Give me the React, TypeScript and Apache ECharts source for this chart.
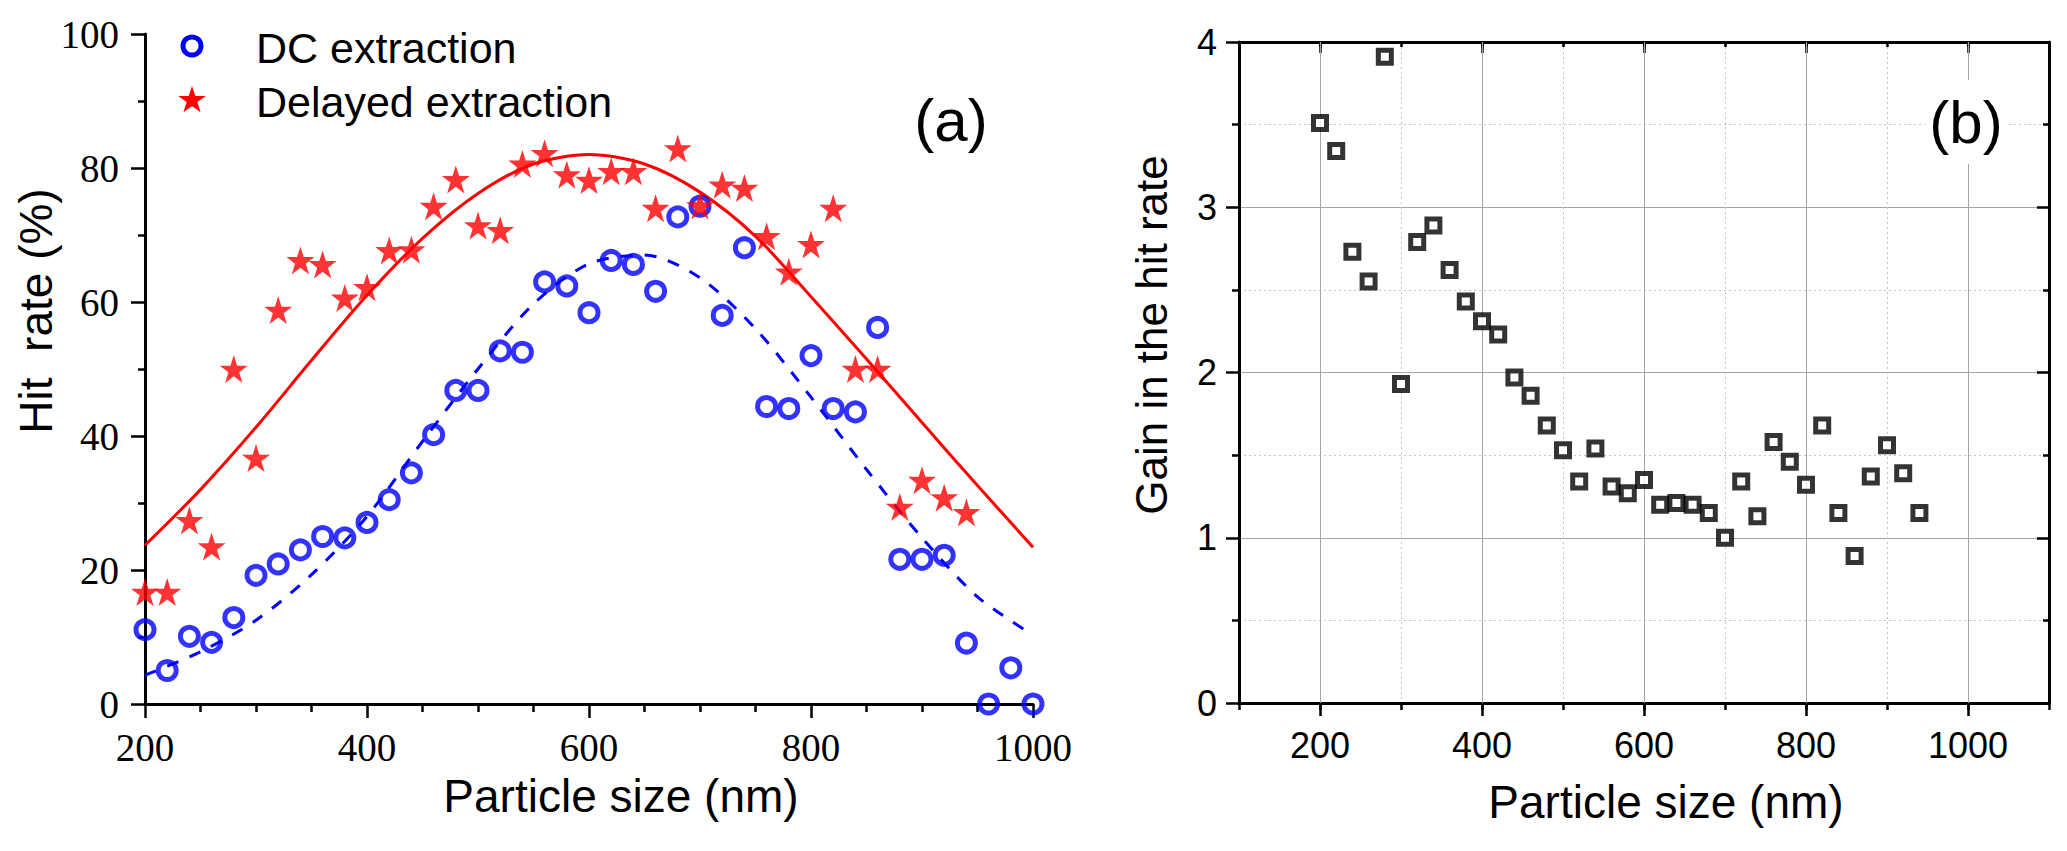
import { useEffect, useRef } from 'react';
import * as echarts from 'echarts';

// panel (a): hit rate vs particle size
const particleSizes = [
  200, 220, 240, 260, 280, 300, 320, 340, 360, 380, 400, 420, 440, 460, 480, 500, 520, 540, 560, 580, 600,
  620, 640, 660, 680, 700, 720, 740, 760, 780, 800, 820, 840, 860, 880, 900, 920, 940, 960, 980, 1000,
];
const dcRate = [
  11.1, 5.0, 10.1, 9.2, 12.9, 19.2, 20.9, 23.0, 25.0, 24.8, 27.1, 30.5, 34.5, 40.2, 46.8, 46.8, 52.7, 52.5, 63.0, 62.4, 58.4,
  66.2, 65.6, 61.6, 72.7, 74.3, 58.0, 68.1, 44.4, 44.1, 52.0, 44.1, 43.6, 56.2, 21.6, 21.6, 22.2, 9.1, 0, 5.4, 0,
];
const delayedSizes = [
  200, 220, 240, 260, 280, 300, 320, 340, 360, 380, 400, 420, 440, 460, 480, 500, 520, 540, 560,
  580, 600, 620, 640, 660, 680, 700, 720, 740, 760, 780, 800, 820, 840, 860, 880, 900, 920, 940,
];
const delayedRate = [
  16.7, 16.7, 27.4, 23.5, 50.0, 36.7, 58.8, 66.2, 65.6, 60.6, 62.2, 67.7, 67.8, 74.3, 78.3, 71.4, 70.7, 80.6, 82.2,
  79.0, 78.2, 79.5, 79.5, 74.0, 82.9, 74.4, 77.5, 77.0, 69.8, 64.5, 68.6, 74.0, 50.0, 50.0, 29.4, 33.4, 30.8, 28.6,
];

// fitted curves, every 50 nm
const fitSizes = [200, 250, 300, 350, 400, 450, 500, 550, 600, 650, 700, 750, 800, 850, 900, 950, 1000];
const dcFit = [4.3, 7.8, 12.5, 19.3, 28.0, 39.2, 50.0, 59.7, 65.7, 67.0, 63.6, 56.0, 45.8, 35.0, 24.8, 16.0, 10.3];
const delayedFit = [23.7, 32.0, 41.3, 51.3, 61.0, 69.5, 76.2, 80.6, 82.0, 80.6, 76.4, 69.8, 60.8, 51.5, 42.0, 32.6, 23.4];

// panel (b): gain
const gainSizes = delayedSizes;
const gainRate = [
  3.51, 3.34, 2.73, 2.55, 3.91, 1.93, 2.79, 2.89, 2.62, 2.43, 2.31, 2.23, 1.97, 1.86, 1.68, 1.53, 1.34, 1.54, 1.31,
  1.27, 1.35, 1.20, 1.21, 1.20, 1.15, 1.00, 1.34, 1.13, 1.58, 1.46, 1.32, 1.68, 1.15, 0.89, 1.37, 1.56, 1.39, 1.15,
];
const gainMajorX = [200, 400, 600, 800, 1000];

const SERIF = '"Times New Roman", "Liberation Serif", serif';
const SANS = 'Arial, "Liberation Sans", sans-serif';
const STAR_PTS = [
  [50, 0], [61.8, 35.5], [99.5, 35.5], [69, 57.5], [80.6, 93.5],
  [50, 71.3], [19.4, 93.5], [31, 57.5], [0.5, 35.5], [38.2, 35.5],
];
const STAR = 'path://M' + STAR_PTS.map((p) => p.join(',')).join(' L') + ' Z';
const GRID_SOLID = '#a4a4a4';
const GRID_DOT = '#c4c4c4';
const BLUE = '#0000ff';
const RED = '#ff0000';

const pairs = (xs: number[], ys: number[]) => ys.map((y, i) => [xs[i], y]);

const axisLine = { show: true, onZero: false, lineStyle: { color: '#000', width: 3 } };
const tickStyle = { color: '#000', width: 2.5 };

function label(text: string, x: number, y: number, size: number, opts: { rotate?: boolean; bg?: boolean; left?: boolean } = {}) {
  return {
    type: 'text',
    x,
    y,
    rotation: opts.rotate ? Math.PI / 2 : 0,
    z: 100,
    style: {
      text,
      fill: '#000',
      font: `${size}px ${SANS}`,
      align: opts.left ? 'left' : 'center',
      verticalAlign: 'middle',
      ...(opts.bg ? { backgroundColor: '#fff', padding: [12, 4] } : {}),
    },
  };
}

function starIcon(cx: number, cy: number, size: number) {
  return {
    type: 'polygon',
    z: 100,
    shape: { points: STAR_PTS.map(([x, y]) => [cx + ((x - 50) * size) / 100, cy + ((y - 50) * size) / 100]) },
    style: { fill: RED },
  };
}

export default function App() {
  const divEl = useRef<HTMLDivElement>(null);

  useEffect(() => {
    const chart = echarts.init(divEl.current as HTMLDivElement, null, { renderer: 'svg' });

    const option: any = {
      animation: false,
      backgroundColor: '#fff',
      grid: [
        { left: 145, top: 34, width: 888, height: 670 },
        { left: 1239, top: 42, width: 810, height: 661 },
      ],
      xAxis: [
        {
          gridIndex: 0,
          type: 'value',
          min: 200,
          max: 1000,
          interval: 200,
          axisLine,
          axisTick: { show: true, length: 14, lineStyle: tickStyle },
          minorTick: { show: true, splitNumber: 4, length: 8, lineStyle: tickStyle },
          axisLabel: { fontFamily: SERIF, fontSize: 39, color: '#000', margin: 24, formatter: (v: number) => String(v) },
          splitLine: { show: false },
        },
        {
          gridIndex: 1,
          type: 'value',
          position: 'bottom',
          min: 100,
          max: 1100,
          interval: 100,
          axisLine,
          axisTick: { show: true, length: 7, lineStyle: tickStyle },
          axisLabel: {
            fontFamily: SANS,
            fontSize: 36,
            color: '#000',
            margin: 24,
            formatter: (v: number) => (v % 200 === 0 ? String(v) : ''),
          },
          splitLine: { show: true, lineStyle: { color: GRID_DOT, type: [2, 3], width: 1 } },
        },
        {
          gridIndex: 1,
          type: 'value',
          position: 'bottom',
          min: 100,
          max: 1100,
          axisLine: { show: false, onZero: false },
          axisTick: { show: true, length: 13, lineStyle: tickStyle, customValues: gainMajorX },
          axisLabel: { show: false },
          splitLine: { show: false },
        },
        {
          gridIndex: 1,
          type: 'value',
          position: 'top',
          min: 100,
          max: 1100,
          interval: 100,
          axisLine,
          axisTick: { show: true, inside: true, length: 5, lineStyle: tickStyle },
          axisLabel: { show: false },
          splitLine: { show: false },
        },
        {
          gridIndex: 1,
          type: 'value',
          position: 'top',
          min: 100,
          max: 1100,
          axisLine: { show: false, onZero: false },
          axisTick: { show: true, inside: true, length: 11, lineStyle: tickStyle, customValues: gainMajorX },
          axisLabel: { show: false },
          splitLine: { show: false },
        },
      ],
      yAxis: [
        {
          gridIndex: 0,
          type: 'value',
          min: 0,
          max: 100,
          interval: 20,
          axisLine,
          axisTick: { show: true, length: 14, lineStyle: tickStyle },
          minorTick: { show: true, splitNumber: 2, length: 7, lineStyle: tickStyle },
          axisLabel: { fontFamily: SERIF, fontSize: 39, color: '#000', margin: 26 },
          splitLine: { show: false },
        },
        {
          gridIndex: 1,
          type: 'value',
          position: 'left',
          min: 0,
          max: 4,
          interval: 1,
          axisLine,
          axisTick: { show: true, length: 13, lineStyle: tickStyle },
          minorTick: { show: true, splitNumber: 2, length: 7, lineStyle: tickStyle },
          axisLabel: { fontFamily: SANS, fontSize: 36, color: '#000', margin: 22 },
          splitLine: { show: true, lineStyle: { color: GRID_SOLID, width: 1 } },
          minorSplitLine: { show: true, lineStyle: { color: GRID_DOT, type: [2, 3], width: 1 } },
        },
        {
          gridIndex: 1,
          type: 'value',
          position: 'right',
          min: 0,
          max: 4,
          interval: 1,
          axisLine,
          axisTick: { show: true, inside: true, length: 12, lineStyle: tickStyle },
          minorTick: { show: true, splitNumber: 2, length: 6, lineStyle: tickStyle },
          axisLabel: { show: false },
          splitLine: { show: false },
        },
      ],
      series: [
        {
          name: 'Delayed fit',
          type: 'line',
          xAxisIndex: 0,
          yAxisIndex: 0,
          data: pairs(fitSizes, delayedFit),
          smooth: 0.3,
          showSymbol: false,
          lineStyle: { color: RED, width: 3 },
          z: 1,
        },
        {
          name: 'DC fit',
          type: 'line',
          xAxisIndex: 0,
          yAxisIndex: 0,
          data: pairs(fitSizes, dcFit),
          smooth: 0.3,
          showSymbol: false,
          lineStyle: { color: BLUE, width: 3, type: [12, 12] },
          z: 1,
        },
        {
          name: 'DC extraction',
          type: 'scatter',
          xAxisIndex: 0,
          yAxisIndex: 0,
          data: pairs(particleSizes, dcRate),
          symbol: 'circle',
          symbolSize: 18,
          itemStyle: { color: 'rgba(255,255,255,0)', borderColor: BLUE, borderWidth: 5 },
          z: 3,
        },
        {
          name: 'Delayed extraction',
          type: 'scatter',
          xAxisIndex: 0,
          yAxisIndex: 0,
          data: pairs(delayedSizes, delayedRate),
          symbol: STAR,
          symbolSize: 28,
          itemStyle: { color: RED },
          z: 4,
        },
        {
          name: 'Gain',
          type: 'scatter',
          xAxisIndex: 1,
          yAxisIndex: 1,
          data: pairs(gainSizes, gainRate),
          symbol: 'rect',
          symbolSize: 13,
          itemStyle: { color: '#fff', borderColor: '#000', borderWidth: 5 },
          z: 4,
          markLine: {
            silent: true,
            symbol: 'none',
            label: { show: false },
            lineStyle: { color: GRID_SOLID, type: 'solid', width: 1 },
            data: gainMajorX.map((v) => ({ xAxis: v })),
            z: 1,
          },
        },
      ],
      graphic: [
        // legend of panel (a)
        { type: 'circle', z: 100, shape: { cx: 192, cy: 46, r: 9 }, style: { fill: 'none', stroke: BLUE, lineWidth: 5 } },
        label('DC extraction', 256, 48, 43, { left: true }),
        starIcon(192, 100, 28),
        label('Delayed extraction', 256, 102, 43, { left: true }),
        label('Particle size (nm)', 621, 796, 46),
        label('Hit  rate (%)', 36, 311, 46, { rotate: true }),
        label('(a)', 951, 120, 60),
        label('Particle size (nm)', 1666, 802, 46),
        label('Gain in the hit rate', 1151, 335, 44, { rotate: true }),
        label('(b)', 1966, 122, 60, { bg: true }),
      ],
    };

    chart.setOption(option);
    return () => {
      chart.dispose();
    };
  }, []);

  return (
    <div
      ref={divEl}
      style={{ position: 'fixed', left: 0, top: 0, width: '2067px', height: '851px', background: '#fff' }}
    />
  );
}
